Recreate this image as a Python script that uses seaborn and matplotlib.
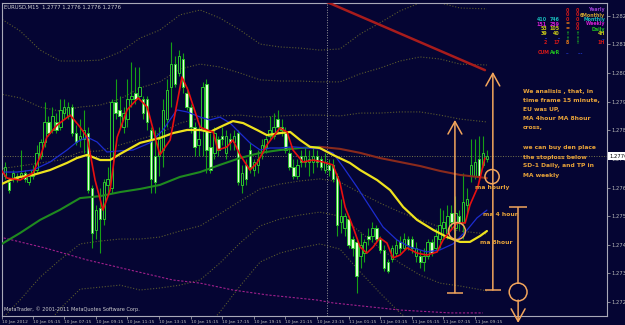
import numpy as np
import matplotlib
matplotlib.use("Agg")
from matplotlib import pyplot as plt
from matplotlib import transforms
import seaborn as sns

BG = "#050533"
BASE = 1.2700   # every price list below is in pips above this level
PIP = 0.0001

# ---- chart data (EURUSD M15) ----
open_pips = [69, 67, 68, 69, 69, 70, 67, 69, 71, 76, 81, 88, 85, 88, 86, 91, 90, 93, 84, 82,
             82, 84, 65, 50, 58, 54, 66, 65, 95, 92, 86, 89, 96, 98, 97, 96, 96, 85, 76, 76,
             78, 89, 100, 108, 105, 110, 98, 93, 86, 80, 85, 101, 79, 77, 82, 83, 77, 82, 81, 84,
             66, 73, 78, 71, 73, 77, 79, 83, 83, 89, 86, 84, 77, 72, 69, 76, 74, 74, 74, 76,
             75, 71, 73, 73, 69, 53, 51, 54, 47, 46, 41, 42, 48, 48, 51, 47, 43, 39, 40, 42,
             46, 44, 47, 47, 41, 41, 39, 41, 46, 44, 47, 51, 49, 56, 51, 55, 53, 59, 69, 69,
             75, 73, 75]
close_pips = [72, 64, 70, 68, 70, 68, 69, 71, 77, 81, 88, 84, 90, 85, 92, 93, 93, 84, 81, 83,
              85, 64, 49, 57, 54, 67, 68, 95, 91, 90, 91, 96, 97, 96, 100, 91, 88, 68, 67, 82,
              92, 99, 108, 101, 111, 100, 93, 86, 79, 82, 100, 78, 71, 84, 78, 82, 83, 81, 83, 67,
              70, 68, 72, 74, 75, 80, 82, 85, 86, 86, 85, 78, 72, 69, 73, 74, 76, 75, 76, 74,
              72, 74, 71, 68, 52, 55, 55, 45, 44, 34, 45, 46, 47, 51, 47, 43, 37, 36, 44, 45,
              44, 47, 45, 44, 44, 39, 41, 46, 42, 48, 52, 53, 55, 53, 56, 53, 60, 61, 73, 74,
              69, 77, 76]
high_pips = [74, 68, 71, 70, 78, 71, 70, 73, 80, 82, 95, 90, 93, 91, 96, 96, 95, 94, 87, 89,
             92, 86, 66, 59, 65, 68, 72, 96, 103, 97, 93, 103, 109, 107, 107, 97, 97, 86, 85, 86,
             96, 103, 116, 111, 113, 112, 100, 94, 88, 87, 102, 103, 84, 86, 83, 86, 85, 84, 85, 85,
             73, 75, 81, 75, 78, 82, 83, 90, 91, 92, 89, 86, 79, 75, 75, 78, 79, 78, 79, 78,
             76, 77, 75, 75, 70, 61, 56, 55, 48, 47, 49, 47, 51, 53, 52, 48, 45, 40, 45, 47,
             48, 49, 48, 48, 46, 43, 44, 47, 47, 51, 58, 57, 59, 59, 62, 57, 70, 65, 82, 82,
             83, 83, 78]
low_pips = [68, 63, 67, 67, 68, 67, 66, 68, 70, 75, 79, 83, 84, 84, 85, 89, 89, 83, 80, 79,
            77, 63, 44, 47, 42, 52, 63, 63, 89, 86, 84, 86, 93, 94, 96, 89, 85, 63, 63, 69,
            72, 86, 93, 100, 104, 98, 92, 84, 76, 76, 76, 70, 70, 75, 76, 80, 75, 78, 78, 66,
            63, 66, 70, 69, 70, 75, 77, 82, 82, 84, 83, 77, 71, 68, 68, 72, 72, 69, 70, 72,
            71, 70, 69, 67, 48, 49, 48, 44, 41, 28, 37, 39, 45, 46, 46, 42, 36, 35, 39, 41,
            42, 43, 43, 42, 39, 37, 36, 40, 41, 43, 44, 47, 47, 51, 47, 50, 47, 56, 67, 68,
            68, 72, 74]

# fast MA (red)
red_bars = [-1.3, 0.5, 3.8, 7.1, 8.9, 10.6, 13.2, 16.5, 19.0, 20.8, 22.8, 24.8, 26.6, 28.4, 30.9,
            33.7, 36.0, 39.2, 41.8, 44.8, 46.3, 49.4, 51.1, 52.7, 53.9, 56.2, 57.7, 59.5, 62.0,
            63.8, 66.3, 69.6, 71.4, 72.9, 75.4, 78.0, 80.5, 83.0, 84.8, 86.1, 88.1, 89.9, 91.6,
            93.2, 94.9, 96.7, 98.2, 100.0, 101.8, 104.3, 106.8, 109.4, 110.9, 114.4, 116.5,
            117.7, 119.7, 121.5]
red_pips = [71.8, 68.3, 67.6, 70.1, 75.7, 82.6, 86.8, 90.3, 86.1, 82.6, 67.6, 57.1, 64.1, 82.6, 92.1,
            96.3, 93.1, 76.4, 81.6, 103.6, 99.1, 86.1, 85.1, 84.4, 78.1, 79.2, 81.6, 76.4, 71.1,
            73.6, 79.9, 85.8, 84.4, 78.1, 73.9, 74.6, 73.9, 72.9, 66.6, 58.2, 51.2, 44.2, 42.1,
            44.2, 47.4, 45.6, 40.4, 41.4, 43.9, 42.1, 41.4, 42.5, 46.7, 52.6, 52.6,
            58.9, 65.2, 75.3]

# MA hourly (blue)
blue_bars = [-1.3, 3.0, 7.1, 11.4, 15.7, 18.2, 20.8, 23.3, 25.8, 29.1, 32.4, 36.7, 40.0, 43.5,
             46.1, 49.4, 51.9, 54.4, 57.0, 59.5, 62.0, 64.6, 67.1, 69.6, 72.9, 76.5, 79.7, 83.0,
             85.6, 89.1, 92.4, 95.7, 99.2, 102.5, 106.8, 110.1, 113.4, 117.0, 119.5, 122.0]
blue_pips = [70.4, 70.4, 71.1, 73.9, 78.1, 80.9, 82.6, 80.9, 77.4, 77.8, 78.1, 80.6, 85.1, 92.1,
             91.4, 89.6, 88.6, 89.6, 87.5, 84.0, 80.6, 78.1, 78.8, 78.8, 79.2, 78.8, 78.5, 77.1,
             72.2, 65.2, 58.2, 51.2, 46.7, 44.2, 42.5, 43.2, 45.3, 50.2, 54.4, 57.1]

# MA 4 hour (yellow)
yellow_bars = [-1.3, 1.3, 3.8, 7.1, 11.4, 15.7, 18.2, 20.8, 24.1, 26.6, 29.1, 34.2, 39.2, 42.5,
               46.1, 49.4, 51.9, 54.4, 57.7, 60.3, 63.8, 66.3, 69.6, 72.2, 74.7, 77.2, 79.7, 83.0,
               87.3, 89.9, 94.2, 97.5, 100.8, 104.3, 108.4, 111.9, 115.2, 117.7, 120.3, 122.0]
yellow_pips = [65.9, 67.6, 68.7, 69.4, 71.1, 73.6, 75.3, 76.4, 74.6, 74.6, 76.7, 80.6, 82.3, 84.0,
               85.1, 85.1, 84.4, 86.1, 88.2, 87.5, 85.1, 83.3, 84.0, 84.4, 81.6, 79.2, 78.8, 76.4,
               73.6, 71.1, 67.6, 64.1, 58.2, 53.7, 50.2, 47.7, 46.0, 46.0, 48.1, 49.8]

# daily MA (green rising / brown falling) and its SD bands
band_bars = [-1.3, 3.8, 8.9, 13.9, 19.0, 24.1, 29.1, 34.2, 39.2, 44.3, 49.4, 54.4, 59.5, 64.6,
             69.6, 74.7, 79.7, 84.8, 89.9, 94.9, 100.0, 105.1, 110.1, 115.2, 122.0]
mid_pips = [44.9, 49.1, 53.7, 57.2, 61.3, 62.0, 63.4, 64.5, 65.9, 68.7, 70.4, 72.9, 75.3, 77.1,
            78.1, 78.8, 79.2, 78.5, 77.1, 75.3, 73.9, 72.5, 70.8, 69.4, 68.3]
up3_pips = [124.2, 119.7, 113.0, 109.2, 109.2, 109.5, 112.3, 117.2, 120.0, 125.3, 127.0, 124.2,
            120.0, 115.1, 114.1, 113.7, 113.0, 113.4, 118.6, 122.5, 126.7, 129.5, 129.5, 127.7, 127.4]
up2_pips = [97.7, 96.3, 93.1, 91.7, 93.1, 93.8, 95.9, 99.8, 101.9, 106.4, 108.1, 107.1, 105.0,
            102.6, 102.2, 102.2, 101.9, 101.9, 104.7, 106.7, 109.2, 110.6, 109.9, 108.1, 107.8]
up1_pips = [71.5, 72.5, 73.6, 74.6, 77.4, 77.8, 79.9, 81.9, 84.0, 87.5, 89.3, 90.0, 90.3, 89.6,
            90.0, 90.3, 90.3, 90.0, 91.0, 91.0, 91.4, 91.4, 90.3, 88.9, 87.9]
dn1_pips = [18.4, 25.7, 33.7, 39.7, 45.3, 46.3, 47.0, 47.0, 47.7, 49.8, 51.6, 55.8, 60.3, 64.5,
            66.2, 67.3, 68.0, 66.9, 63.1, 59.6, 56.4, 53.7, 51.2, 49.8, 48.8]
dn2_pips = [-7.8, 2.0, 14.2, 22.6, 29.5, 30.2, 30.9, 29.2, 29.9, 30.9, 32.7, 38.6, 45.6, 51.6,
            54.0, 55.4, 56.4, 55.0, 49.5, 43.9, 38.6, 34.4, 31.6, 30.6, 28.9]
dn3_pips = [-34.4, -21.4, -5.7, 5.1, 13.5, 14.5, 14.5, 11.7, 11.7, 12.1, 13.8, 21.5, 30.6, 39.0,
            42.1, 43.9, 45.3, 43.5, 35.5, 28.2, 21.2, 15.6, 12.1, 11.0, 9.3]

# weekly MA (magenta dotted) and the red weekly line
mag_bars = [-1.3, 10.1, 20.8, 31.6, 42.5, 49.4, 57.7, 66.3, 79.0, 83.0, 100.0, 112.7, 121.0]
mag_pips = [47.7, 43.9, 39.7, 36.2, 32.7, 31.6, 29.2, 27.5, 25.7, 24.7, 22.2, 21.2, 21.2]
wk_bars = [81.5, 121.5]
wk_pips = [129.8, 106.0]

last_price = 1.2776
day_break = 81.5
time_label_bars = [-0.7, 7, 15, 23, 31, 39, 47, 55, 63, 71, 79, 87, 95, 103, 111, 119]
time_labels = ["10 Jan 2012", "10 Jan 05:15", "10 Jan 07:15", "10 Jan 09:15", "10 Jan 11:15",
               "10 Jan 13:15", "10 Jan 15:15", "10 Jan 17:15", "10 Jan 19:15", "10 Jan 21:15",
               "10 Jan 23:15", "11 Jan 01:15", "11 Jan 03:15", "11 Jan 05:15", "11 Jan 07:15",
               "11 Jan 09:15"]
price_ticks = [1.2725, 1.2735, 1.2745, 1.2755, 1.2765, 1.2775, 1.2785, 1.2795, 1.2805, 1.2815, 1.2825]

# hand drawn trade notes (bar, pips)
arrow_bars = [113.9, 123.5]
arrow_low = [28.2, 29.2]
arrow_high = [88.6, 105.4]
circle_bars = [114.4, 123.3, 129.9]
circle_pips = [49.8, 68.8, 28.5]
circle_sizes = [150, 105, 165]
stop_bar = 129.9
stop_top = 58.2
stop_circle_top = 31.3
stop_arrow = [25.7, 17.7]
note_lines = ["We analisis , that, in", "time frame 15 minute,", "EU was UP,", "MA 4hour MA 8hour",
              "cross,", "we can buy den place", "the stoploss below", "SD-1 Daily, and TP in",
              "MA weekly"]
note_rows_px = [92, 101, 110, 119, 128, 148, 157, 166, 175]


def price(pips):
    return BASE + np.asarray(pips, dtype=float) * PIP


sns.set_theme(style="dark", rc={
    "axes.facecolor": BG, "figure.facecolor": BG, "axes.edgecolor": "#a9a9b8",
    "axes.linewidth": 0.8, "axes.grid": False, "text.color": "#d0d0d0",
    "xtick.color": "#b8b8b8", "ytick.color": "#b8b8b8"})
plt.rcParams["font.family"] = ["DejaVu Sans"]

fig = plt.figure(figsize=(6.25, 3.25), dpi=100)
ax = fig.add_axes([2 / 625, 9 / 325, 605 / 625, 313 / 325])

dotted = (0, (1, 1.6))
band_col = "#5a5a2e"
for band in [up3_pips, up2_pips, up1_pips, dn1_pips, dn2_pips, dn3_pips]:
    sns.lineplot(x=band_bars, y=price(band), ax=ax, color=band_col, lw=0.8, linestyle=dotted,
                 estimator=None, sort=False, zorder=1)
sns.lineplot(x=mag_bars, y=price(mag_pips), ax=ax, color="#a0208c", lw=0.8, linestyle=(0, (2, 1.5)),
             estimator=None, sort=False, zorder=1)
ax.axhline(last_price, color="#76764c", lw=0.7, ls=dotted, zorder=1)
ax.axvline(day_break, color="#9a9a9a", lw=0.7, ls=dotted, zorder=1)

# candles
bars = np.arange(len(close_pips))
o, c = price(open_pips), price(close_pips)
h, l = price(high_pips), price(low_pips)
up = c >= o
ax.vlines(bars, l, h, color="#16a016", lw=0.8, zorder=2)
ax.bar(bars[up], np.maximum(c - o, 0.00002)[up], bottom=o[up], width=0.62, color=BG,
       edgecolor="#2cc42c", linewidth=0.7, zorder=2)
ax.bar(bars[~up], (o - c)[~up], bottom=c[~up], width=0.62, color="#e2ffd8",
       edgecolor="#2cc42c", linewidth=0.7, zorder=2)

# moving averages
sns.lineplot(x=band_bars[:17], y=price(mid_pips[:17]), ax=ax, color="#1f8a1f", lw=1.5,
             estimator=None, sort=False, zorder=3)
sns.lineplot(x=band_bars[16:], y=price(mid_pips[16:]), ax=ax, color="#8a2a1c", lw=1.5,
             estimator=None, sort=False, zorder=3)
sns.lineplot(x=blue_bars, y=price(blue_pips), ax=ax, color="#1c2cd0", lw=0.9,
             estimator=None, sort=False, zorder=3)
sns.lineplot(x=yellow_bars, y=price(yellow_pips), ax=ax, color="#eee21e", lw=1.6,
             estimator=None, sort=False, zorder=3)
sns.lineplot(x=red_bars, y=price(red_pips), ax=ax, color="#e81010", lw=1.2,
             estimator=None, sort=False, zorder=3)
sns.lineplot(x=wk_bars, y=price(wk_pips), ax=ax, color="#a81c1c", lw=1.8,
             estimator=None, sort=False, zorder=3)

# trade drawings
ORANGE = "#f2a55c"
head = dict(arrowstyle="->,head_length=0.9,head_width=0.5", color=ORANGE, lw=1.1,
            mutation_scale=10, shrinkA=0, shrinkB=0, clip_on=False)
for b, lo, hi in zip(arrow_bars, arrow_low, arrow_high):
    ax.annotate("", xy=(b, price(hi)), xytext=(b, price(lo)), arrowprops=head, annotation_clip=False)
    ax.hlines(price(lo), b - 2.0, b + 2.0, color=ORANGE, lw=1.1, zorder=4)
ax.scatter(circle_bars, price(circle_pips), s=circle_sizes, facecolors="none", edgecolors=ORANGE,
           linewidths=1.1, zorder=4, clip_on=False)
ax.vlines(stop_bar, price(stop_circle_top), price(stop_top), color=ORANGE, lw=1.1, zorder=4)
ax.hlines(price(stop_top), stop_bar - 2.3, stop_bar + 2.3, color=ORANGE, lw=1.1, zorder=4)
ax.annotate("", xy=(stop_bar, price(stop_arrow[1])), xytext=(stop_bar, price(stop_arrow[0])),
            arrowprops=head, annotation_clip=False)


def fpos(x, y):
    return x / 625, 1 - y / 325


NOTE = "#e8a33a"
for line, y in zip(note_lines, note_rows_px):
    fig.text(*fpos(523, y), line, color=NOTE, fontsize=4.3, fontweight="bold", va="center")
fig.text(*fpos(475, 188), "ma hourly", color=NOTE, fontsize=4.3, fontweight="bold", va="center")
fig.text(*fpos(483, 214), "ma 4 hour", color=NOTE, fontsize=4.3, fontweight="bold", va="center")
fig.text(*fpos(480, 243), "ma 8hour", color=NOTE, fontsize=4.3, fontweight="bold", va="center")

# signal panel top right
RED, CYAN, MAG, YEL, GRN, BLU, ORG = "#d41818", "#18b8b8", "#d020d0", "#c8c818", "#20c020", "#2848ff", "#e07818"
panel_cols = [(547, "right"), (560, "right"), (567, "center"), (577, "center"), (605, "right")]
panel_rows = [
    (10, [("", RED), ("", RED), ("0", RED), ("0", RED), ("Yearly", "#9a3fd0")]),
    (15, [("", RED), ("", RED), ("0", RED), ("0", RED), ("6Monthly", "#c8a030")]),
    (19.5, [("410", CYAN), ("746", CYAN), ("0", RED), ("0", RED), ("Monthly", CYAN)]),
    (24, [("151", MAG), ("259", MAG), ("=", ORG), ("0", RED), ("Weekly", MAG)]),
    (29, [("53", YEL), ("105", YEL), ("=", ORG), ("0", RED), ("Daily", GRN)]),
    (33.5, [("39", YEL), ("40", YEL), ("↑", GRN), ("↑", GRN), ("4H", YEL)]),
    (38.5, [("-", BLU), ("-", BLU), ("↑", GRN), ("↑", GRN), ("..", BLU)]),
    (43, [("2", RED), ("17", RED), ("8", ORG), ("↑", GRN), ("1H", RED)]),
]
for y, cells in panel_rows:
    for (x, ha), (txt, col) in zip(panel_cols, cells):
        fig.text(*fpos(x, y), txt, color=col, fontsize=3.4, fontweight="bold", ha=ha, va="center")
for x, txt, col in [(538, "CUM", RED), (550, "AvR", GRN), (565, "..", BLU), (578, "...", BLU)]:
    fig.text(*fpos(x, 53), txt, color=col, fontsize=3.4, fontweight="bold", va="center")

ax.text(0.003, 0.993, "EURUSD,M15  1.2777 1.2776 1.2776 1.2776", transform=ax.transAxes,
        fontsize=3.8, color="#d0d0d0", va="top")
ax.text(0.003, 0.012, "MetaTrader, © 2001-2011 MetaQuotes Software Corp.", transform=ax.transAxes,
        fontsize=3.6, color="#d0d0d0", va="bottom")

# axes
ax.set_xlim(-0.76, 152.4)
ax.set_ylim(price(20.12), price(129.45))
ax.set_xticks(time_label_bars)
ax.set_xticklabels(time_labels, ha="left")
ax.yaxis.tick_right()
ax.set_yticks(price_ticks)
ax.set_yticklabels([f"{p:.4f}" for p in price_ticks])
ax.tick_params(axis="x", bottom=True, length=2, width=0.5, pad=1, labelsize=3.2)
ax.tick_params(axis="y", right=True, left=False, length=2, width=0.5, pad=1.5, labelsize=3.8)
ax.set_xlabel("")
ax.set_ylabel("")
blend = transforms.blended_transform_factory(ax.transAxes, ax.transData)
ax.text(1.004, last_price, f"{last_price:.4f}", transform=blend, ha="left", va="center",
        fontsize=3.8, color="black", clip_on=False, zorder=6,
        bbox=dict(boxstyle="square,pad=0.25", fc="white", ec="none"))

fig.savefig("out.png", dpi=100, facecolor=BG)
